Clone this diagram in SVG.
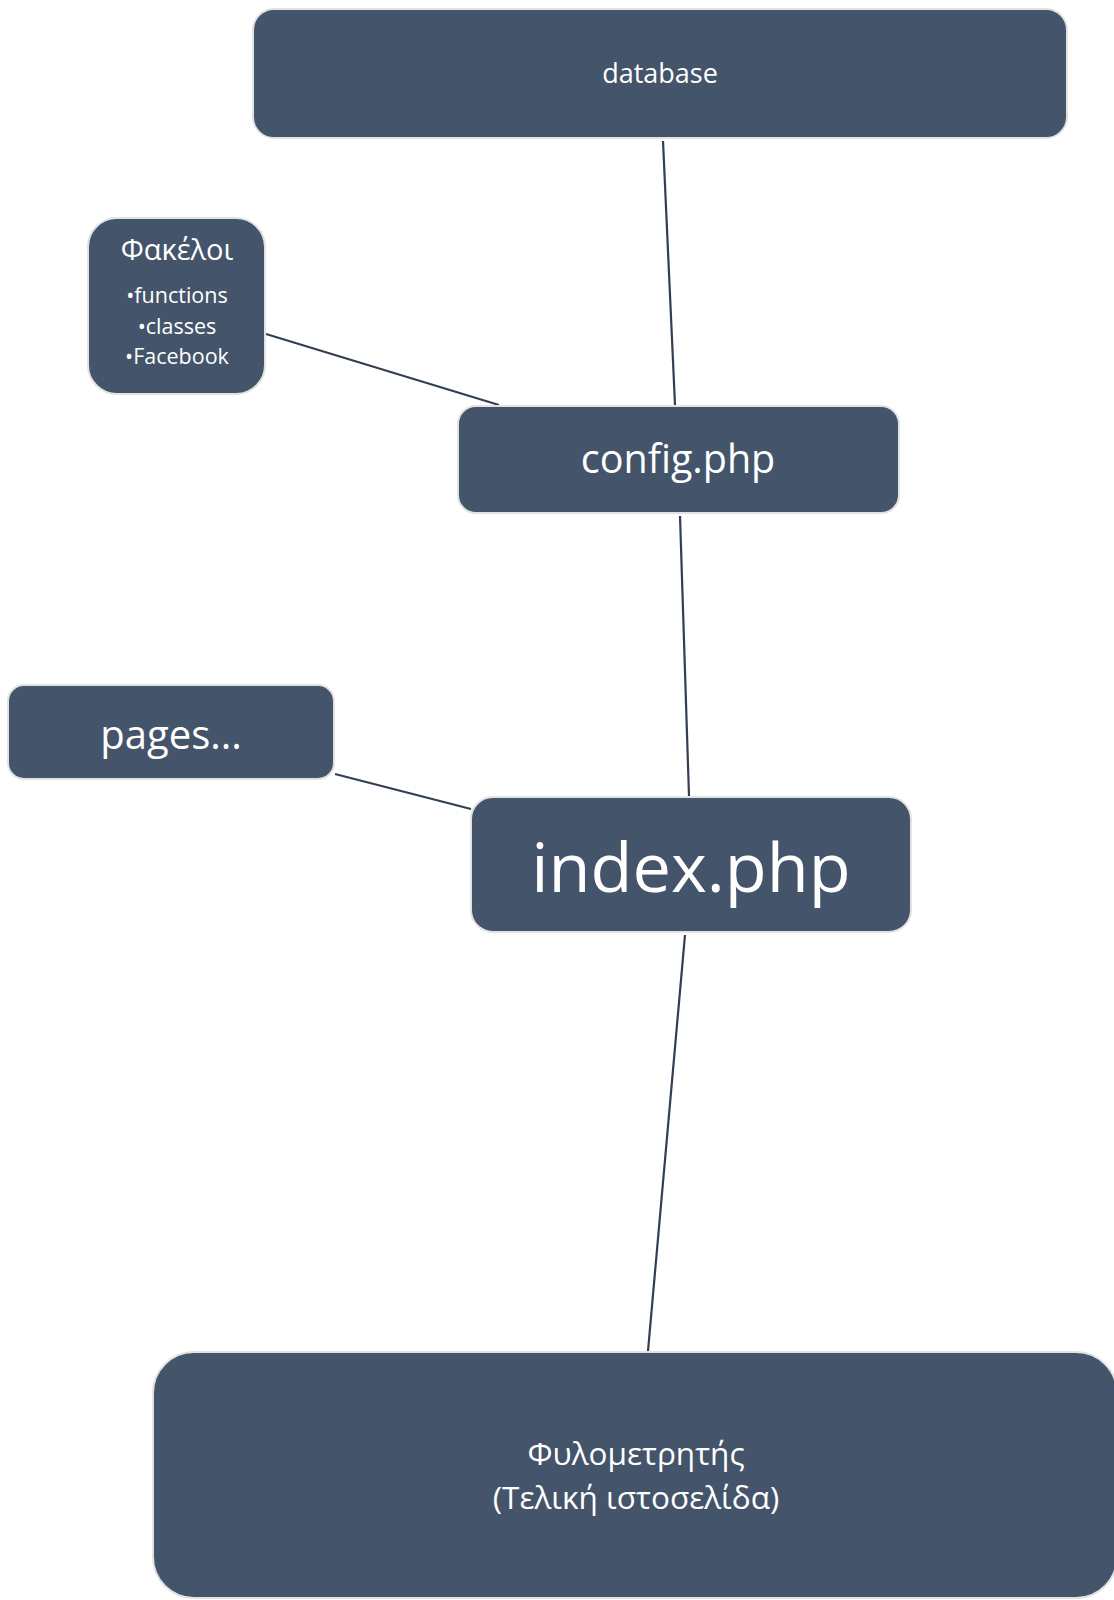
<svg xmlns="http://www.w3.org/2000/svg" width="1114" height="1600" viewBox="0 0 1114 1600">
<style>
.box{fill:#44546a;stroke:#e2e2e2;stroke-width:2}
.t{fill:#ffffff;font-family:"Open Sans","Noto Sans","DejaVu Sans",sans-serif;text-anchor:middle}
.c{stroke:#323f53;stroke-width:2.2;fill:none}
</style>
<rect width="1114" height="1600" fill="#ffffff"/>
<g id="connectors">
<line class="c" x1="663" y1="141" x2="675" y2="405"/>
<line class="c" x1="266" y1="334" x2="499" y2="405"/>
<line class="c" x1="680" y1="516" x2="689" y2="796"/>
<line class="c" x1="335" y1="774" x2="471" y2="809"/>
<line class="c" x1="685" y1="935" x2="648" y2="1351"/>
</g>
<g id="database">
<rect class="box" x="253" y="9" width="814" height="129" rx="21"/>
<text class="t" x="660" y="83" font-size="27">database</text>
</g>
<g id="folders">
<rect class="box" x="88" y="218" width="177" height="176" rx="29"/>
<text class="t" x="177" y="260" font-size="29">Φακέλοι</text>
<text class="t" x="177" y="303" font-size="21.5">•functions</text>
<text class="t" x="177" y="334" font-size="21.5">•classes</text>
<text class="t" x="177" y="364" font-size="21.5">•Facebook</text>
</g>
<g id="config">
<rect class="box" x="458" y="406" width="441" height="107" rx="18"/>
<text class="t" x="678" y="473" font-size="39.5">config.php</text>
</g>
<g id="pages">
<rect class="box" x="8" y="685" width="326" height="94" rx="16"/>
<text class="t" x="171" y="749" font-size="40">pages...</text>
</g>
<g id="index">
<rect class="box" x="471" y="797" width="440" height="135" rx="22"/>
<text class="t" x="691" y="892" font-size="68.5">index.php</text>
</g>
<g id="final">
<rect class="box" x="153" y="1352" width="964" height="246" rx="41"/>
<text class="t" x="636" y="1465" font-size="31.5">Φυλομετρητής</text>
<text class="t" x="636" y="1509" font-size="31.5">(Τελική ιστοσελίδα)</text>
</g>
</svg>
